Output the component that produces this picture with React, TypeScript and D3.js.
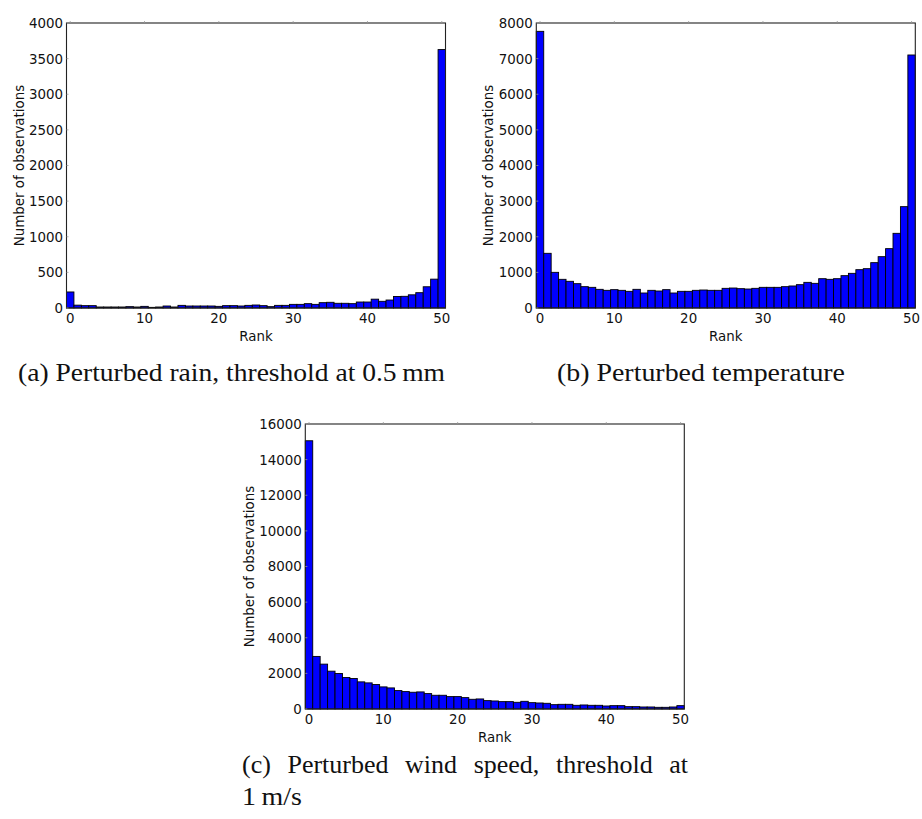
import React, { useLayoutEffect, useRef, useState } from "react";
import * as d3 from "d3";

const ranks: number[] = d3.range(0, 51);
const rankTicks: number[] = [0, 10, 20, 30, 40, 50];

const rainCounts: number[] = [225, 40, 33, 33, 14, 14, 14, 14, 19, 14, 23, 9, 14, 28, 14, 37, 28, 28, 28, 28, 23, 33, 33, 28, 37, 42, 33, 19, 37, 37, 51, 51, 61, 51, 75, 80, 66, 66, 61, 84, 84, 124, 94, 112, 162, 164, 185, 215, 298, 405, 3627];
const tempCounts: number[] = [7766, 1535, 1001, 805, 749, 683, 599, 580, 524, 496, 515, 496, 468, 524, 421, 496, 477, 515, 421, 468, 468, 496, 505, 496, 496, 552, 561, 543, 533, 552, 580, 580, 580, 599, 618, 655, 720, 692, 823, 805, 823, 908, 973, 1076, 1104, 1273, 1441, 1666, 2096, 2845, 7102];
const windCounts: number[] = [15059, 2952, 2519, 2124, 1993, 1767, 1711, 1523, 1466, 1372, 1241, 1184, 1034, 978, 940, 959, 865, 771, 771, 696, 696, 639, 545, 564, 470, 451, 414, 414, 376, 432, 357, 338, 320, 244, 263, 263, 207, 226, 207, 207, 169, 188, 188, 132, 132, 113, 113, 94, 94, 113, 188];

const rainTicks: number[] = [0, 500, 1000, 1500, 2000, 2500, 3000, 3500, 4000];
const tempTicks: number[] = [0, 1000, 2000, 3000, 4000, 5000, 6000, 7000, 8000];
const windTicks: number[] = [0, 2000, 4000, 6000, 8000, 10000, 12000, 14000, 16000];

const xLabel = "Rank";
const yLabel = "Number of observations";
const captionA = "(a) Perturbed rain, threshold at 0.5\u2009mm";
const captionB = "(b) Perturbed temperature";
const captionC1: string[] = ["(c)", "Perturbed", "wind", "speed,", "threshold", "at"];
const captionC2 = "1\u2009m/s";

const SANS = "'DejaVu Sans', sans-serif";
const SERIF = "'Liberation Serif', 'Times New Roman', serif";
const FS = 13.4;
const CFS = 26;

type PanelProps = {
  left: number;
  top: number;
  width: number;
  height: number;
  counts: number[];
  yTicks: number[];
  yLabelX: number;
};

function Panel({ left, top, width, height, counts, yTicks, yLabelX }: PanelProps) {
  const x = d3.scaleLinear().domain([-0.5, 50.5]).range([left, left + width]);
  const y = d3
    .scaleLinear()
    .domain([0, yTicks[yTicks.length - 1]])
    .range([top + height, top]);
  const bottom = top + height;
  return (
    <g>
      {ranks.map((r, i) => (
        <rect
          key={r}
          x={x(r - 0.5)}
          y={y(counts[i])}
          width={x(r + 0.5) - x(r - 0.5)}
          height={bottom - y(counts[i])}
          fill="#0000ff"
          stroke="#000"
          strokeWidth={0.9}
        />
      ))}
      <rect x={left} y={top} width={width} height={height} fill="none" stroke="#222" strokeWidth={1.1} />
      {rankTicks.map((t) => (
        <g key={"xt" + t}>
          <line x1={x(t)} x2={x(t)} y1={top} y2={top - 2} stroke="#999" strokeWidth={0.8} />
          <text x={x(t)} y={bottom + 15} fontFamily={SANS} fontSize={FS} textAnchor="middle" fill="#111">
            {t}
          </text>
        </g>
      ))}
      {yTicks.map((t) => (
        <g key={"yt" + t}>
          <line x1={left} x2={left + 2} y1={y(t)} y2={y(t)} stroke="#999" strokeWidth={0.8} />
          <text x={left - 3.5} y={y(t) + 4.9} fontFamily={SANS} fontSize={FS} textAnchor="end" fill="#111">
            {t}
          </text>
        </g>
      ))}
      <text x={left + width / 2} y={bottom + 33} fontFamily={SANS} fontSize={FS} textAnchor="middle" fill="#111">
        {xLabel}
      </text>
      <text
        transform={`translate(${yLabelX},${top + height / 2}) rotate(-90)`}
        fontFamily={SANS}
        fontSize={FS}
        textAnchor="middle"
        dominantBaseline="central"
        fill="#111"
      >
        {yLabel}
      </text>
    </g>
  );
}

function JustifiedLine({ words, x0, x1, y }: { words: string[]; x0: number; x1: number; y: number }) {
  const refs = useRef<(SVGTextElement | null)[]>([]);
  const [xs, setXs] = useState<number[] | null>(null);
  useLayoutEffect(() => {
    const widths = refs.current.map((el) => (el ? el.getComputedTextLength() : 0));
    const total = d3.sum(widths);
    const gap = (x1 - x0 - total) / (words.length - 1);
    const pos: number[] = [];
    let cur = x0;
    widths.forEach((w) => {
      pos.push(cur);
      cur += w + gap;
    });
    setXs(pos);
  }, []);
  return (
    <g>
      {words.map((w, i) => (
        <text
          key={i}
          ref={(el) => {
            refs.current[i] = el;
          }}
          x={xs ? xs[i] : x0}
          y={y}
          fontFamily={SERIF}
          fontSize={CFS}
          fill="#111"
          opacity={xs ? 1 : 0}
        >
          {w}
        </text>
      ))}
    </g>
  );
}

export default function App() {
  return (
    <svg
      width={922}
      height={819}
      style={{ position: "absolute", left: 0, top: 0, background: "#fff" }}
    >
      <rect x={0} y={0} width={922} height={819} fill="#fff" />
      <Panel left={66.5} top={23} width={379} height={285} counts={rainCounts} yTicks={rainTicks} yLabelX={19} />
      <Panel left={536.3} top={23} width={379} height={285} counts={tempCounts} yTicks={tempTicks} yLabelX={488} />
      <Panel left={305.3} top={424} width={379} height={285} counts={windCounts} yTicks={windTicks} yLabelX={249} />
      <text x={18} y={381} fontFamily={SERIF} fontSize={CFS} textLength={427} lengthAdjust="spacingAndGlyphs" fill="#111">
        {captionA}
      </text>
      <text x={557} y={381} fontFamily={SERIF} fontSize={CFS} textLength={288} lengthAdjust="spacingAndGlyphs" fill="#111">
        {captionB}
      </text>
      <JustifiedLine words={captionC1} x0={242} x1={688} y={773} />
      <text x={242} y={805} fontFamily={SERIF} fontSize={CFS} textLength={60} lengthAdjust="spacingAndGlyphs" fill="#111">
        {captionC2}
      </text>
    </svg>
  );
}
